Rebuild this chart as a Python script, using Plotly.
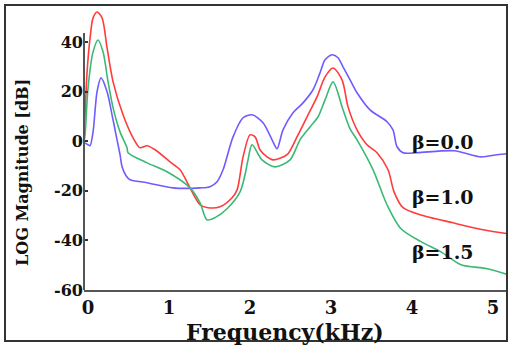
import plotly.graph_objects as go

# Frequency (kHz) and LOG magnitude (dB)
freq_b00 = [-0.037, 0.0, 0.025, 0.062, 0.111, 0.160, 0.235, 0.296, 0.358, 0.395, 0.420, 0.469, 0.519,
            0.728, 1.049, 1.383, 1.506, 1.593, 1.667, 1.790, 1.914, 2.025, 2.160, 2.272, 2.333, 2.407,
            2.531, 2.654, 2.778, 2.864, 2.926, 3.012, 3.086, 3.148, 3.235, 3.321, 3.481, 3.691, 3.765,
            3.815, 3.889, 4.062, 4.519, 4.852, 5.049, 5.185]
mag_b00 = [-0.6, -1.4, -1.8, 3.8, 20.0, 25.6, 20.0, 10.7, 0.6, -5.4, -10.3, -13.9, -15.5,
           -16.7, -18.8, -18.8, -18.3, -16.3, -11.5, 1.8, 9.5, 10.7, 7.5, 0.6, -3.0, 4.6,
           11.5, 15.5, 20.8, 27.6, 32.9, 34.9, 33.7, 30.0, 24.8, 19.6, 12.7, 7.9, 4.6,
           -2.2, -4.6, -4.6, -3.8, -6.3, -5.4, -5.0]

freq_b10 = [-0.05, -0.037, -0.012, 0.025, 0.062, 0.111, 0.173, 0.235, 0.309, 0.432, 0.556, 0.642,
            0.728, 0.827, 1.012, 1.136, 1.259, 1.383, 1.481, 1.630, 1.778, 1.840, 1.914, 2.000, 2.062,
            2.123, 2.210, 2.284, 2.457, 2.580, 2.704, 2.827, 2.926, 3.025, 3.136, 3.210, 3.321, 3.444,
            3.568, 3.704, 3.778, 3.889, 4.099, 4.506, 4.877, 5.185]
mag_b10 = [0.6, 10.7, 28.0, 41.7, 49.8, 52.2, 49.8, 37.7, 24.0, 10.7, 1.4, -2.6,
           -1.8, -3.4, -8.3, -11.5, -18.8, -25.6, -26.8, -26.4, -22.8, -19.6, -6.3, 2.6, 1.8,
           -3.4, -6.3, -7.5, -5.4, 1.8, 9.9, 17.9, 26.0, 29.6, 24.8, 13.9, 4.6, -1.4,
           -4.6, -11.5, -20.4, -26.8, -29.6, -32.9, -35.7, -37.3]

freq_b15 = [-0.05, -0.037, 0.0, 0.062, 0.123, 0.185, 0.247, 0.309, 0.395, 0.481, 0.494, 0.728,
            0.975, 1.259, 1.383, 1.469, 1.568, 1.716, 1.877, 1.938, 1.975, 2.025, 2.148, 2.309,
            2.494, 2.617, 2.741, 2.840, 2.926, 3.025, 3.148, 3.235, 3.321, 3.519, 3.691, 3.864,
            4.111, 4.358, 4.605, 4.926, 5.185]
mag_b15 = [-0.2, 2.6, 21.6, 36.1, 40.9, 36.1, 24.0, 13.5, 3.8, -2.6, -4.6, -8.7,
           -12.3, -18.8, -24.8, -31.7, -30.8, -27.2, -20.4, -13.5, -7.5, -1.4, -7.5, -10.3,
           -7.5, 0.6, 5.8, 9.9, 16.7, 24.0, 12.7, 5.0, 0.6, -11.5, -25.6, -35.3,
           -40.5, -44.6, -49.8, -51.4, -53.8]

x_ticks = [0, 1, 2, 3, 4, 5]
y_ticks = [-60, -40, -20, 0, 20, 40]
labels = ["β=0.0", "β=1.0", "β=1.5"]
label_x = [4.38, 4.38, 4.38]
label_y = [-0.2, -22.4, -44.6]

FONT = "DejaVu Serif"
col_blue, col_red, col_green = "#6f5cff", "#ff3b3b", "#3cb875"

fig = go.Figure()
for fx, my, c in [(freq_b00, mag_b00, col_blue), (freq_b10, mag_b10, col_red),
                  (freq_b15, mag_b15, col_green)]:
    fig.add_trace(go.Scatter(x=fx, y=my, mode="lines",
                             line=dict(color=c, width=1.6, shape="spline", smoothing=0.8),
                             showlegend=False, cliponaxis=False, hoverinfo="skip"))

for t, lx, ly in zip(labels, label_x, label_y):
    fig.add_annotation(x=lx, y=ly, xref="x", yref="y", text=f"<b>{t}</b>", showarrow=False,
                       xanchor="center", yanchor="middle",
                       font=dict(family=FONT, size=19, color="#111"))

fig.add_annotation(x=(285 - 84) / 424, y=(290 - 332) / 285, xref="paper", yref="paper",
                   xanchor="center", yanchor="middle",
                   text="<b>Frequency(kHz)</b>", showarrow=False,
                   font=dict(family=FONT, size=22, color="#111"))
fig.add_annotation(x=(22 - 84) / 424, y=(290 - 173) / 285, xref="paper", yref="paper",
                   xanchor="center", yanchor="middle",
                   text="<b>LOG Magnitude [dB]</b>", showarrow=False, textangle=-90,
                   font=dict(family=FONT, size=16, color="#111"))

# y axis line (only up to ~44 dB)
fig.add_shape(type="line", xref="paper", yref="y", x0=0, x1=0, y0=-60, y1=43.7,
              line=dict(color="#555", width=2))
# outer frame
fig.add_shape(type="rect", xref="paper", yref="paper",
              x0=(5 - 84) / 424, x1=(507 - 84) / 424, y0=(290 - 341) / 285, y1=1.0,
              line=dict(color="#333", width=2))

fig.update_layout(
    width=508, height=345,
    margin=dict(l=84, r=0, t=5, b=55),
    paper_bgcolor="white", plot_bgcolor="white",
    xaxis=dict(range=[-0.05, 5.185], tickvals=x_ticks, ticktext=[f"<b>{v}</b>" for v in x_ticks],
               showgrid=False, zeroline=False, showline=True, linecolor="#555", linewidth=2,
               ticks="", ticklabelstandoff=0,
               tickfont=dict(family=FONT, size=18, color="#111")),
    yaxis=dict(range=[-60, 55], tickvals=y_ticks, ticktext=[f"<b>{v}</b>" for v in y_ticks],
               showgrid=False, zeroline=False, showline=False,
               ticks="inside", ticklen=4, tickcolor="#333", tickwidth=1.5,
               tickfont=dict(family=FONT, size=16, color="#111")),
)

fig.write_html("out.html", config={"displayModeBar": False},
               post_script="document.body.style.margin='0px';")
